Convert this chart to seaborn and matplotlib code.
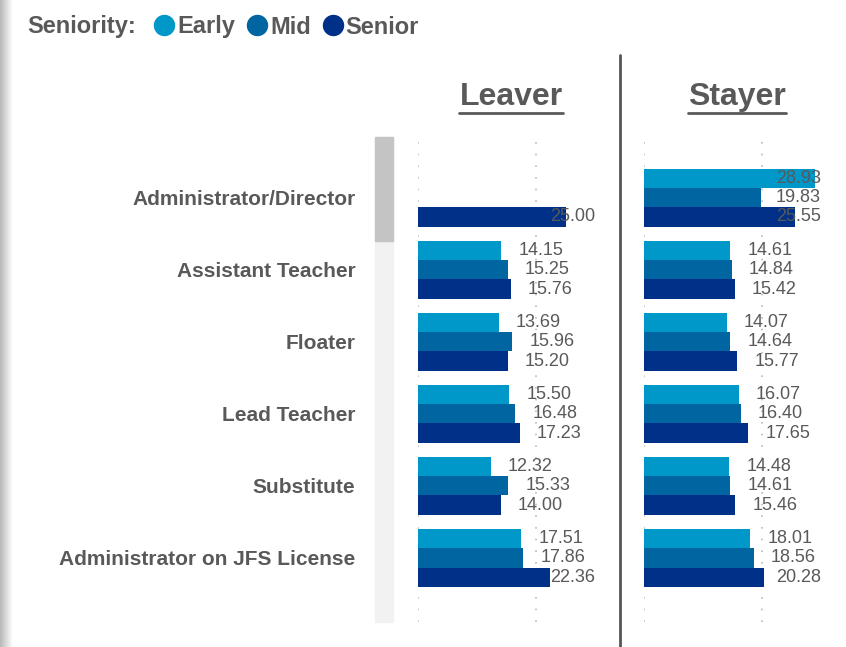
import numpy as np
import pandas as pd
import matplotlib
matplotlib.use('Agg')
import matplotlib.pyplot as plt
from matplotlib.lines import Line2D
from matplotlib.patches import Rectangle
import seaborn as sns

sns.set_style('white')
plt.rcParams['font.family'] = ['Liberation Sans', 'DejaVu Sans']

roles = ['Administrator/Director', 'Assistant Teacher', 'Floater', 'Lead Teacher',
         'Substitute', 'Administrator on JFS License']
levels = ['Early', 'Mid', 'Senior']
colors = ['#0097c9', '#0065a0', '#003087']

leaver_early = [np.nan, 14.15, 13.69, 15.50, 12.32, 17.51]
leaver_mid = [np.nan, 15.25, 15.96, 16.48, 15.33, 17.86]
leaver_senior = [25.00, 15.76, 15.20, 17.23, 14.00, 22.36]
stayer_early = [28.93, 14.61, 14.07, 16.07, 14.48, 18.01]
stayer_mid = [19.83, 14.84, 14.64, 16.40, 14.61, 18.56]
stayer_senior = [25.55, 15.42, 15.77, 17.65, 15.46, 20.28]

rows = []
for group, series in [('Leaver', [leaver_early, leaver_mid, leaver_senior]),
                      ('Stayer', [stayer_early, stayer_mid, stayer_senior])]:
    for lvl, vals in zip(levels, series):
        for r, v in zip(roles, vals):
            rows.append({'Status': group, 'Seniority': lvl, 'Role': r, 'Wage': v})
df = pd.DataFrame(rows)

W, H = 846, 647
fig = plt.figure(figsize=(W / 100, H / 100), dpi=100)
grey = '#595959'
XMAX = 30


def fx(px):
    return px / W


def fy(py):
    return 1 - py / H


# decorations: left edge strip, scrollbar, divider
edge = fig.add_axes([0, 0, fx(12), 1])
edge.imshow(np.linspace(0.72, 1.0, 50).reshape(1, -1), aspect='auto', cmap='gray',
            vmin=0, vmax=1, extent=(0, 1, 0, 1))
edge.axis('off')
fig.patches.append(Rectangle((fx(375), fy(622)), fx(18), (622 - 137) / H,
                             transform=fig.transFigure, color='#f2f2f2', zorder=0))
fig.patches.append(Rectangle((fx(375), fy(241)), fx(18), (241 - 137) / H,
                             transform=fig.transFigure, color='#c4c4c4', zorder=0))
fig.add_artist(Line2D([fx(620), fx(620)], [0, fy(55)], color='#555555', lw=2))

ax_w = 177 / W
ax_h = (622 - 138) / H
axes = {
    'Leaver': fig.add_axes([fx(418), fy(622), ax_w, ax_h]),
    'Stayer': fig.add_axes([fx(644), fy(622), ax_w, ax_h]),
}
title_x = {'Leaver': 511, 'Stayer': 737}
titles = []

for name, ax in axes.items():
    sub = df[df['Status'] == name]
    sns.barplot(data=sub, y='Role', x='Wage', hue='Seniority', order=roles,
                hue_order=levels, palette=colors, orient='h', width=0.8,
                saturation=1, legend=False, ax=ax, errorbar=None, linewidth=0)
    ax.set_xlim(0, XMAX)
    ax.set_ylim(5.89, -0.83)
    for x in [0, 20]:
        ax.axvline(x, color='#bbbbbb', lw=1.2, ls=(0, (1, 6)), zorder=0)
    for s in ax.spines.values():
        s.set_visible(False)
    ax.set_xlabel('')
    ax.set_ylabel('')
    ax.set_xticks([])
    ax.tick_params(axis='y', length=0)
    for c in ax.containers:
        for p in c:
            v = p.get_width()
            if not np.isfinite(v) or v == 0:
                continue
            yc = p.get_y() + p.get_height() / 2
            if v + 2.9 > 22:
                ax.text(XMAX, yc, f'{v:.2f}', ha='right', va='center',
                        fontsize=13, color=grey)
            else:
                ax.text(v + 2.9, yc, f'{v:.2f}', ha='left', va='center',
                        fontsize=13, color=grey)
    titles.append(fig.text(fx(title_x[name]), fy(97), name, fontsize=23,
                           fontweight='bold', color=grey, ha='center', va='center'))

axes['Leaver'].set_yticks(range(len(roles)))
axes['Leaver'].set_yticklabels(roles, fontsize=15, fontweight='bold', color=grey)
axes['Leaver'].tick_params(axis='y', pad=45)
axes['Stayer'].set_yticks([])

fig.text(fx(27), fy(27), 'Seniority:', fontsize=17, fontweight='bold',
         color=grey, ha='left', va='center')
handles = [Line2D([], [], ls='', marker='o', markersize=14.4, color=c) for c in colors]
fig.legend(handles, levels, loc='center left', bbox_to_anchor=(fx(157), fy(27)),
           ncol=3, frameon=False, handlelength=0.6, handletextpad=0.25,
           columnspacing=0.63, prop={'weight': 'bold', 'size': 17},
           labelcolor=grey, borderaxespad=0, borderpad=0)

# underline the panel titles
fig.canvas.draw()
for t in titles:
    bb = t.get_window_extent().transformed(fig.transFigure.inverted())
    fig.add_artist(Line2D([bb.x0, bb.x1], [bb.y0 - 0.001, bb.y0 - 0.001],
                          color=grey, lw=2))

fig.savefig('out.png', dpi=100)
